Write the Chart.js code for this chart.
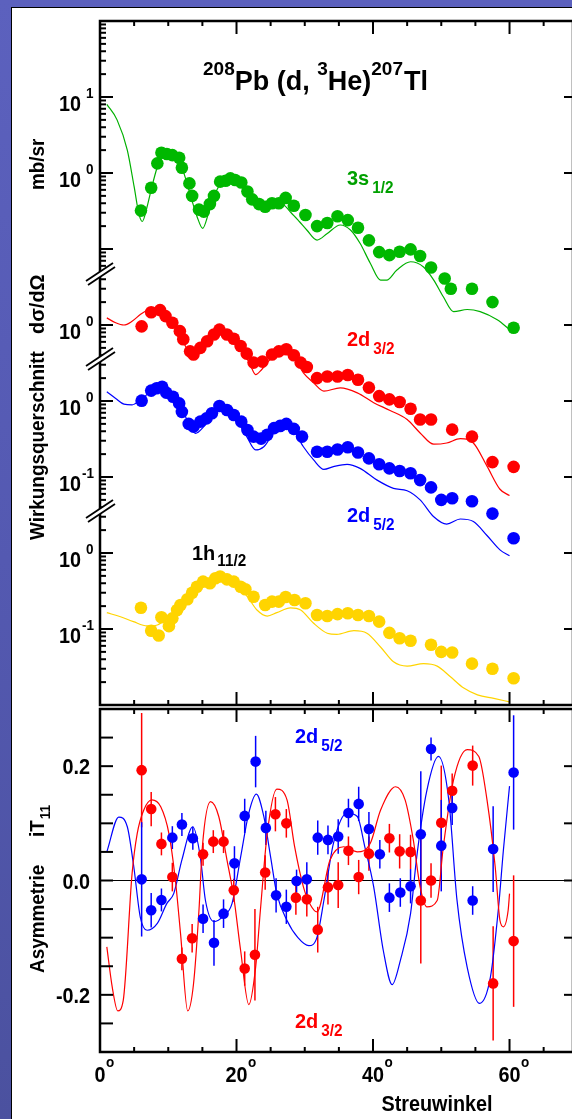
<!DOCTYPE html>
<html>
<head>
<meta charset="utf-8">
<script src="https://cdn.jsdelivr.net/npm/chart.js"></script>
<style>
  html, body { margin: 0; padding: 0; }
  body { width: 572px; height: 1119px; overflow: hidden; position: relative;
         background: linear-gradient(180deg, #5c61be 0%, #5459b1 50%, #4b519f 100%); }
  #blatt { position: absolute; left: 11px; top: 7px; width: 620px; height: 1200px;
           background: #fff; border-left: 1px solid #000; border-top: 1px solid #000; }
  canvas { position: absolute; left: 0; top: 0; }
</style>
</head>
<body>
<div id="blatt"></div>
<canvas id="oben" width="600" height="720"></canvas>
<canvas id="unten" width="600" height="1119"></canvas>
<script>
// Wirkungsquerschnitte (mb/sr) - Messpunkte
const gruenWinkel = [6.0,7.5,8.4,9.0,9.8,10.6,11.6,12.0,13.1,13.5,14.5,15.2,16.1,16.7,17.6,18.4,19.1,19.8,20.7,21.6,22.3,23.3,24.2,25.2,26.2,27.2,28.4,30.1,31.8,33.3,34.8,36.3,37.8,39.4,40.9,42.4,43.9,45.5,46.9,48.5,50.5,51.4,54.5,57.5,60.6];
const gruenWerte = [0.32,0.64,1.34,1.85,1.78,1.72,1.59,1.17,0.73,0.50,0.33,0.31,0.39,0.50,0.77,0.79,0.85,0.81,0.75,0.57,0.45,0.39,0.36,0.40,0.40,0.47,0.37,0.28,0.20,0.22,0.27,0.24,0.19,0.13,0.091,0.083,0.092,0.099,0.081,0.057,0.041,0.030,0.030,0.020,0.0092];
const rotWinkel = [6.1,7.5,8.8,9.6,10.6,11.7,12.2,13.2,13.7,14.7,15.7,16.7,17.5,18.6,19.6,20.6,21.5,22.5,23.8,25.2,26.2,27.3,28.4,29.4,30.3,31.8,33.3,34.8,36.3,37.8,39.4,40.9,42.4,43.9,45.5,46.9,48.5,51.6,54.5,57.5,60.6];
const rotWerte = [0.96,1.47,1.57,1.31,1.07,0.83,0.65,0.45,0.41,0.50,0.61,0.75,0.87,0.75,0.66,0.53,0.42,0.32,0.33,0.41,0.45,0.48,0.40,0.32,0.28,0.20,0.21,0.21,0.22,0.19,0.15,0.116,0.105,0.097,0.079,0.057,0.057,0.042,0.034,0.0157,0.0136];
const blauWinkel = [6.1,7.5,8.3,9.1,9.7,10.7,11.6,12.0,13.0,13.7,14.7,15.6,16.4,17.5,18.6,19.6,20.7,21.6,22.5,23.6,24.5,25.5,26.4,27.3,28.4,29.6,31.8,33.3,34.8,36.3,37.8,39.4,40.9,42.4,43.9,45.5,46.9,48.5,50.0,51.6,54.5,57.5,60.6];
const blauWerte = [1.01,1.37,1.47,1.54,1.29,1.14,0.93,0.72,0.50,0.46,0.535,0.59,0.69,0.86,0.76,0.655,0.535,0.415,0.34,0.32,0.36,0.44,0.47,0.50,0.43,0.34,0.215,0.215,0.23,0.246,0.21,0.176,0.147,0.13,0.12,0.112,0.091,0.073,0.050,0.0525,0.048,0.033,0.0156];
const gelbWinkel = [6.0,7.5,8.6,9.0,10.1,10.6,11.3,11.8,12.8,13.5,14.2,15.1,16.1,16.9,17.6,18.6,19.6,20.6,21.3,22.5,24.2,25.2,26.2,27.2,28.5,30.1,31.8,33.3,34.8,36.3,37.8,39.4,40.9,42.4,43.9,45.5,48.5,50.0,51.6,54.5,57.5,60.6];
const gelbWerte = [0.19,0.095,0.082,0.143,0.109,0.138,0.178,0.207,0.246,0.30,0.36,0.42,0.40,0.465,0.49,0.45,0.42,0.36,0.333,0.266,0.207,0.229,0.229,0.264,0.241,0.218,0.153,0.148,0.157,0.161,0.153,0.148,0.125,0.089,0.0755,0.070,0.062,0.050,0.049,0.035,0.030,0.0225];

// DWBA-Rechnungen
const gruenKurveWinkel = [1.0,2.5,4.0,5.0,5.7,6.2,6.9,7.6,8.4,9.1,10.0,11.3,12.3,13.3,14.2,15.05,15.9,16.9,17.9,19.4,20.6,22.0,23.5,25.4,26.5,28.0,29.2,30.3,31.8,33.3,35.2,36.7,38.1,39.6,41.1,42.0,43.5,45.5,47.4,48.9,50.3,51.8,53.8,55.7,58.2,60.1];
const gruenKurveWerte = [8.0,5.0,2.0,0.66,0.29,0.23,0.36,0.66,1.21,1.81,1.9,1.64,0.99,0.49,0.27,0.187,0.295,0.54,0.77,0.89,0.77,0.49,0.36,0.38,0.40,0.30,0.23,0.178,0.131,0.16,0.207,0.178,0.119,0.065,0.039,0.039,0.053,0.068,0.058,0.039,0.0235,0.015,0.016,0.015,0.0117,0.0086];
const rotKurveWinkel = [1.0,2.3,3.5,4.7,5.9,7.1,8.4,9.8,11.3,12.5,13.5,14.7,16.0,17.4,18.5,19.6,21.0,22.0,22.8,23.7,25.4,27.1,28.5,29.8,31.3,32.8,35.2,37.7,40.1,42.5,45.0,46.9,48.9,50.8,52.8,54.7,56.7,58.6,60.0];
const rotKurveWerte = [1.24,1.07,1.0,1.12,1.37,1.6,1.68,1.37,0.96,0.53,0.42,0.50,0.68,0.87,0.78,0.66,0.45,0.30,0.223,0.26,0.39,0.45,0.36,0.235,0.173,0.135,0.149,0.128,0.095,0.075,0.057,0.038,0.027,0.028,0.032,0.028,0.0139,0.0069,0.0057];
const blauKurveWinkel = [1.0,2.3,3.5,4.7,5.9,7.4,8.8,10.3,11.8,13.0,14.0,15.2,16.7,17.7,18.6,19.6,21.5,22.8,24.0,25.4,26.9,28.4,29.8,31.3,32.8,34.2,36.2,38.1,40.6,43.0,45.0,46.9,48.9,50.8,52.8,54.7,56.7,58.6,60.0];
const blauKurveWerte = [1.32,1.08,0.91,0.89,1.03,1.32,1.57,1.26,0.84,0.51,0.375,0.46,0.69,0.86,0.80,0.655,0.34,0.227,0.25,0.375,0.46,0.40,0.25,0.168,0.126,0.137,0.147,0.13,0.091,0.071,0.066,0.050,0.030,0.024,0.028,0.026,0.017,0.011,0.0092];
const gelbKurveWinkel = [1.0,3.0,4.9,6.9,8.4,9.8,11.8,13.7,15.7,17.4,19.6,21.6,23.0,24.5,25.9,27.9,29.4,31.3,33.3,34.7,37.2,39.1,41.1,43.0,45.0,47.4,49.4,51.3,53.3,55.3,57.7,60.0];
const gelbKurveWerte = [0.164,0.145,0.125,0.11,0.113,0.138,0.197,0.295,0.42,0.49,0.42,0.266,0.178,0.148,0.164,0.19,0.178,0.119,0.088,0.085,0.095,0.088,0.058,0.037,0.0325,0.035,0.0325,0.0237,0.0167,0.0136,0.0122,0.011];

// Verschiebung der Teilbilder (Dekaden) auf der gemeinsamen log-Achse
const gruenFaktor = 1, rotFaktor = 1e-2, blauFaktor = 1e-3, gelbFaktor = 1e-5;

// Analysierstaerke iT11
const asymRotWinkel = [6.1,7.5,9.0,10.6,12.0,13.5,15.1,16.6,18.1,19.6,21.2,22.7,24.2,25.7,27.3,28.7,30.3,31.9,33.4,34.9,36.4,37.9,39.4,42.4,43.9,45.5,47.0,48.5,50.0,51.6,54.6,57.6,60.6];
const asymRotWerte = [0.193,0.125,0.064,0.006,-0.137,-0.101,0.046,0.068,0.068,-0.017,-0.154,-0.130,0.014,0.116,0.100,-0.030,-0.033,-0.086,-0.012,-0.008,0.052,0.006,0.047,0.074,0.051,0.050,-0.035,0.000,0.101,0.157,0.201,-0.180,-0.106];
const asymRotFehler = [0.10,0.03,0.02,0.025,0.02,0.025,0.02,0.02,0.02,0.02,0.03,0.08,0.03,0.03,0.025,0.03,0.03,0.04,0.03,0.04,0.025,0.03,0.03,0.025,0.03,0.03,0.11,0.03,0.10,0.03,0.035,0.10,0.115];
const asymBlauWinkel = [6.1,7.5,9.0,10.6,12.0,13.6,15.1,16.7,18.1,19.7,21.2,22.8,24.3,25.8,27.3,28.8,30.3,31.9,33.4,34.9,36.4,37.9,39.4,41.0,42.4,44.0,45.5,47.0,48.5,50.0,51.6,54.6,57.6,60.6];
const asymBlauWerte = [0.002,-0.052,-0.034,0.075,0.098,0.074,-0.067,-0.109,-0.058,0.030,0.113,0.208,0.092,-0.026,-0.046,-0.001,0.002,0.075,0.071,0.077,0.118,0.134,0.090,0.046,-0.030,-0.021,-0.010,0.081,0.230,0.061,0.127,-0.035,0.055,0.189];
const asymBlauFehler = [0.10,0.03,0.02,0.02,0.02,0.02,0.025,0.04,0.025,0.03,0.03,0.045,0.03,0.03,0.03,0.02,0.03,0.03,0.025,0.03,0.025,0.03,0.03,0.025,0.025,0.025,0.03,0.11,0.02,0.08,0.03,0.025,0.075,0.10];
const asymRotKurveWinkel = [1.0,1.8,2.6,3.4,4.7,5.45,6.4,7.6,8.9,10.1,11.05,11.8,12.85,13.7,14.5,15.0,16.2,17.4,18.6,19.6,20.6,21.8,22.8,23.5,24.5,25.9,27.4,28.5,29.8,30.8,31.8,33.7,35.7,37.7,39.6,41.1,43.3,44.7,45.9,46.9,47.9,49.4,50.3,51.8,53.8,55.5,56.7,57.9,58.6,59.1,59.8,60.0];
const asymRotKurveWerte = [-0.116,-0.187,-0.228,-0.21,0.012,0.082,0.123,0.141,0.129,0.082,0.0,-0.093,-0.228,-0.181,-0.052,0.059,0.138,0.112,0.036,-0.029,-0.122,-0.217,-0.152,-0.052,0.082,0.160,0.141,0.06,-0.011,-0.042,-0.055,0.036,0.059,0.050,0.065,0.123,0.164,0.141,0.071,-0.011,-0.046,-0.035,0.059,0.176,0.229,0.217,0.141,0.024,-0.07,-0.081,-0.052,-0.023];
const asymBlauKurveWinkel = [1.0,2.75,4.0,4.95,5.9,6.9,8.4,9.8,10.8,12.0,13.6,14.7,15.45,16.7,18.1,19.35,20.6,21.8,22.9,24.0,25.0,25.9,27.4,29.0,30.6,31.8,32.8,34.2,36.2,37.7,38.8,40.1,41.5,42.8,44.0,45.5,46.4,47.9,49.6,51.1,52.3,53.8,55.6,57.2,58.4,59.1,60.0];
const asymBlauKurveWerte = [0.050,0.111,0.094,0.024,-0.064,-0.087,-0.075,-0.040,-0.023,0.036,0.094,0.041,-0.035,-0.072,-0.062,-0.040,0.041,0.118,0.151,0.112,0.041,-0.023,-0.07,-0.10,-0.114,-0.099,-0.035,0.065,0.118,0.112,0.059,-0.011,-0.122,-0.182,-0.14,-0.058,0.041,0.158,0.217,0.141,-0.034,-0.152,-0.215,-0.169,-0.046,0.053,0.165];

// Achsenbeschriftung
const winkelLabels = [0, 20, 40, 60];
const logLabelWerte = [1e1, 1e0, 1e-2, 1e-3, 1e-4, 1e-5, 1e-6];
const logLabelExp = ['1', '0', '0', '0', '-1', '0', '-1'];
const bruchWerte = [0.0469, 0.00357, 3.57e-5];
const asymLabelWerte = [0.2, 0.0, -0.2];
const asymLabelText = ['0.2', '0.0', '-0.2'];

const GRUEN = '#00b800', ROT = '#ff0000', BLAU = '#0000ff', GELB = '#ffd400';
const FONT = '"Liberation Sans", Arial, Helvetica, sans-serif';

function punkte(xs, ys, k) { return xs.map((x, i) => ({ x: x, y: ys[i] * k })); }

function kurve(xs, ys, k, farbe) {
  return { data: punkte(xs, ys, k), showLine: true, borderColor: farbe, borderWidth: 1.2,
           pointRadius: 0, cubicInterpolationMode: 'monotone', fill: false, order: 2 };
}
function messung(xs, ys, k, farbe, r, ord) {
  return { data: punkte(xs, ys, k), backgroundColor: farbe, borderColor: farbe,
           borderWidth: 0, pointRadius: r, pointHoverRadius: r, order: ord || 1 };
}

function strich(ctx, x1, y1, x2, y2) {
  ctx.beginPath(); ctx.moveTo(x1, y1); ctx.lineTo(x2, y2); ctx.stroke();
}

// teile: [text, groesse, dy, abstand davor, stauchung]
function schrift(ctx, x, y, teile, farbe, ausr, drehung) {
  ctx.save();
  ctx.translate(x, y);
  if (drehung) ctx.rotate(drehung);
  ctx.fillStyle = farbe; ctx.textAlign = 'left'; ctx.textBaseline = 'alphabetic';
  let breite = 0;
  teile.forEach(t => {
    ctx.font = 'bold ' + t[1] + 'px ' + FONT;
    breite += (t[3] || 0) + ctx.measureText(t[0]).width * (t[4] || 0.9);
  });
  let cx = ausr === 'right' ? -breite : (ausr === 'center' ? -breite / 2 : 0);
  teile.forEach(t => {
    ctx.font = 'bold ' + t[1] + 'px ' + FONT;
    const s = t[4] || 0.9;
    cx += t[3] || 0;
    ctx.save(); ctx.translate(cx, t[2] || 0); ctx.scale(s, 1); ctx.fillText(t[0], 0, 0); ctx.restore();
    cx += ctx.measureText(t[0]).width * s;
  });
  ctx.restore();
}

function winkelTicks(ctx, x, yLinie, richtung) {
  for (let d = 5; d < 70; d += 5) {
    const px = x.getPixelForValue(d);
    strich(ctx, px, yLinie, px, yLinie + richtung * (d % 20 === 0 ? 13 : 5));
  }
}

const rahmenOben = {
  id: 'rahmenOben',
  afterDraw(chart) {
    const { ctx, chartArea: a, scales: { x, y } } = chart;
    ctx.save();
    ctx.strokeStyle = '#000';
    ctx.lineWidth = 2;
    winkelTicks(ctx, x, a.top, 1);
    winkelTicks(ctx, x, a.bottom, -1);
    for (let e = -7; e <= 1; e++) {
      for (let m = 1; m <= 9; m++) {
        const py = y.getPixelForValue(m * Math.pow(10, e));
        if (py < a.top + 2 || py > a.bottom - 2) continue;
        strich(ctx, a.left, py, a.left + (m === 1 ? 13 : 6), py);
        if (m === 1) strich(ctx, a.right, py, a.right - 9, py);
      }
    }
    ctx.lineWidth = 2.5;
    ctx.strokeRect(a.left, a.top, a.right - a.left, a.bottom - a.top);

    // Achsenbrueche
    bruchWerte.forEach(v => {
      const py = y.getPixelForValue(v);
      ctx.fillStyle = '#fff';
      ctx.beginPath();
      ctx.moveTo(a.left - 14, py + 7); ctx.lineTo(a.left + 13, py - 11);
      ctx.lineTo(a.left + 15, py - 7); ctx.lineTo(a.left - 12, py + 11);
      ctx.closePath(); ctx.fill();
      ctx.lineWidth = 1.8;
      strich(ctx, a.left - 14, py + 7, a.left + 13, py - 11);
      strich(ctx, a.left - 12, py + 11, a.left + 15, py - 7);
    });

    // log-Beschriftung
    logLabelWerte.forEach((v, i) => {
      const py = y.getPixelForValue(v);
      schrift(ctx, 81, py + 14, [['10', 22]], '#000', 'right');
      const e = logLabelExp[i];
      schrift(ctx, e[0] === '-' ? 82 : 86, py + 1, [[e, 15]], '#000', 'left');
    });

    // Titel
    schrift(ctx, 203, 90, [['208', 19, -15, 0, 1], ['Pb (d, ', 27, 0, 0, 1], ['3', 19, -15, 0, 1],
      ['He)', 27, 0, 0, 1], ['207', 19, -15, 0, 1], ['Tl', 27, 0, 1, 1]], '#000', 'left');

    // Zustaende
    schrift(ctx, 347, 185, [['3s', 21, 0, 0, 0.95], ['1/2', 17, 8, 3, 0.9]], '#00a000', 'left');
    schrift(ctx, 347, 346, [['2d', 21, 0, 0, 0.95], ['3/2', 17, 8, 3, 0.9]], ROT, 'left');
    schrift(ctx, 347, 522, [['2d', 21, 0, 0, 0.95], ['5/2', 17, 8, 3, 0.9]], BLAU, 'left');
    schrift(ctx, 192, 560, [['1h', 21, 0, 0, 0.95], ['11/2', 17, 6, 2, 0.9]], '#000', 'left');

    // y-Achsentitel
    schrift(ctx, 44, 540, [['Wirkungsquerschnitt', 21]], '#000', 'left', -Math.PI / 2);
    schrift(ctx, 44, 334, [['d\u03c3/d\u03a9', 21, 0, 0, 0.95]], '#000', 'left', -Math.PI / 2);
    schrift(ctx, 44, 190, [['mb/sr', 21]], '#000', 'left', -Math.PI / 2);
    ctx.restore();
  }
};

const rahmenUnten = {
  id: 'rahmenUnten',
  beforeDatasetsDraw(chart) {
    const { ctx, chartArea: a, scales: { x, y } } = chart;
    ctx.save();
    ctx.beginPath(); ctx.rect(a.left, a.top, a.right - a.left, a.bottom - a.top); ctx.clip();
    ctx.strokeStyle = '#000'; ctx.lineWidth = 1;
    strich(ctx, a.left, y.getPixelForValue(0), a.right, y.getPixelForValue(0));
    ctx.lineWidth = 1.5;
    [[asymRotWinkel, asymRotWerte, asymRotFehler, ROT], [asymBlauWinkel, asymBlauWerte, asymBlauFehler, BLAU]].forEach(s => {
      ctx.strokeStyle = s[3];
      s[0].forEach((w, i) => {
        const px = x.getPixelForValue(w);
        strich(ctx, px, y.getPixelForValue(s[1][i] + s[2][i]), px, y.getPixelForValue(s[1][i] - s[2][i]));
      });
    });
    ctx.restore();
  },
  afterDraw(chart) {
    const { ctx, chartArea: a, scales: { x, y } } = chart;
    ctx.save();
    ctx.strokeStyle = '#000';
    ctx.lineWidth = 2;
    winkelTicks(ctx, x, a.top, 1);
    winkelTicks(ctx, x, a.bottom, -1);
    for (let k = -6; k <= 6; k++) {
      const py = y.getPixelForValue(k * 0.05);
      if (py < a.top + 2 || py > a.bottom - 2) continue;
      strich(ctx, a.left, py, a.left + 13, py);
      if (k % 2 === 0) strich(ctx, a.right, py, a.right - 9, py);
    }
    ctx.lineWidth = 2.5;
    ctx.strokeRect(a.left, a.top, a.right - a.left, a.bottom - a.top);

    asymLabelWerte.forEach((v, i) => {
      schrift(ctx, 90, y.getPixelForValue(v) + 8, [[asymLabelText[i], 22]], '#000', 'right');
    });
    winkelLabels.forEach(w => {
      const px = x.getPixelForValue(w);
      ctx.font = 'bold 22px ' + FONT;
      const halb = ctx.measureText(String(w)).width * 0.9 / 2;
      schrift(ctx, px, 1082, [[String(w), 22]], '#000', 'center');
      schrift(ctx, px + halb + 0.5, 1067, [['o', 15]], '#000', 'left');
    });
    schrift(ctx, 437, 1111, [['Streuwinkel', 22]], '#000', 'center');

    schrift(ctx, 44, 973, [['Asymmetrie', 21]], '#000', 'left', -Math.PI / 2);
    schrift(ctx, 44, 837, [['iT', 21], ['11', 15, 6, 1]], '#000', 'left', -Math.PI / 2);

    schrift(ctx, 295, 743, [['2d', 21, 0, 0, 0.95], ['5/2', 17, 8, 3, 0.9]], BLAU, 'left');
    schrift(ctx, 295, 1028, [['2d', 21, 0, 0, 0.95], ['3/2', 17, 8, 3, 0.9]], ROT, 'left');
    ctx.restore();
  }
};

const basisOptionen = {
  responsive: false,
  animation: false,
  events: [],
  plugins: { legend: { display: false }, tooltip: { enabled: false } }
};

new Chart(document.getElementById('oben'), {
  type: 'scatter',
  data: {
    datasets: [
      kurve(gruenKurveWinkel, gruenKurveWerte, gruenFaktor, '#00b000'),
      kurve(rotKurveWinkel, rotKurveWerte, rotFaktor, ROT),
      kurve(blauKurveWinkel, blauKurveWerte, blauFaktor, BLAU),
      kurve(gelbKurveWinkel, gelbKurveWerte, gelbFaktor, GELB),
      messung(gruenWinkel, gruenWerte, gruenFaktor, GRUEN, 6.3),
      messung(rotWinkel, rotWerte, rotFaktor, ROT, 6.3),
      messung(blauWinkel, blauWerte, blauFaktor, BLAU, 6.3),
      messung(gelbWinkel, gelbWerte, gelbFaktor, GELB, 6.3)
    ]
  },
  options: Object.assign({}, basisOptionen, {
    layout: { padding: { left: 100, right: 27, top: 21, bottom: 15 } },
    scales: {
      x: { type: 'linear', min: 0, max: 69.3, display: false },
      y: { type: 'logarithmic', min: 1e-7, max: 1e2, display: false }
    }
  }),
  plugins: [rahmenOben]
});

new Chart(document.getElementById('unten'), {
  type: 'scatter',
  data: {
    datasets: [
      kurve(asymRotKurveWinkel, asymRotKurveWerte, 1, ROT),
      kurve(asymBlauKurveWinkel, asymBlauKurveWerte, 1, BLAU),
      messung(asymRotWinkel, asymRotWerte, 1, ROT, 5.3, 1),
      messung(asymBlauWinkel, asymBlauWerte, 1, BLAU, 5.3, 0)
    ]
  },
  options: Object.assign({}, basisOptionen, {
    layout: { padding: { left: 100, right: 27, top: 709, bottom: 67 } },
    scales: {
      x: { type: 'linear', min: 0, max: 69.3, display: false },
      y: { type: 'linear', min: -0.3, max: 0.3, display: false }
    }
  }),
  plugins: [rahmenUnten]
});
</script>
</body>
</html>
